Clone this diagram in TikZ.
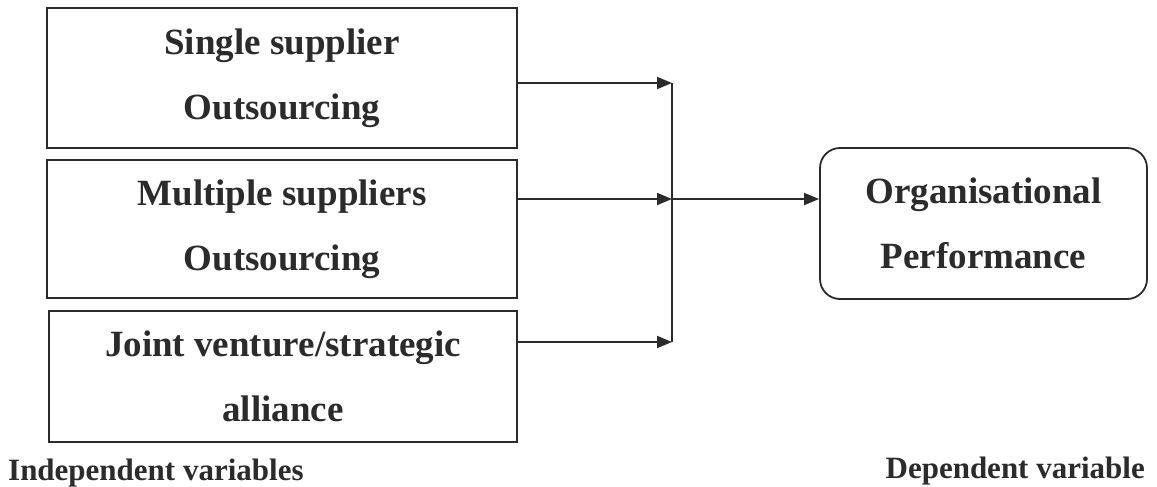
\documentclass[tikz,border=0pt]{standalone}
\usepackage{fontspec}
\setmainfont{Liberation Serif}
\usetikzlibrary{arrows.meta}
\definecolor{ink}{HTML}{2B2B2B}
\tikzset{
  box/.style={draw=ink, line width=1.8pt, minimum width=470pt, inner sep=0pt, align=center,
    text=ink, font=\fontsize{37}{65}\selectfont\bfseries},
  rbox/.style={box, rounded corners=20pt},
  arr/.style={draw=ink, line width=1.8pt, -{Triangle[length=15pt,width=12pt]}},
  lnk/.style={draw=ink, line width=1.8pt},
  lbl/.style={text=ink, inner sep=0pt, font=\fontsize{31}{36}\selectfont\bfseries}
}
\begin{document}
\begin{tikzpicture}[x=1pt,y=-1pt]
\useasboundingbox[fill=white] (0,0) rectangle (1157,487);
\node[box, minimum height=140pt] (b1) at (282,78) {Single supplier\\Outsourcing};
\node[box, minimum height=138pt] (b2) at (282,229) {Multiple suppliers\\Outsourcing};
\node[box, minimum width=468pt, minimum height=131pt] (b3) at (283,376.5) {Joint venture/strategic\\alliance};
\node[rbox, minimum width=327pt, minimum height=151pt] (r) at (983.5,223.5) {Organisational\\Performance};
\coordinate (j1) at (672,83);
\coordinate (j2) at (672,199);
\coordinate (j3) at (672,342);
\draw[arr] (b1.east |- j1) -- (j1);
\draw[arr] (b2.east |- j2) -- (j2);
\draw[arr] (b3.east |- j3) -- (j3);
\draw[lnk] (j1) -- (j3);
\draw[arr] (j2) -- (r.west |- j2);
\node[lbl, anchor=base west] (li) at (8,480) {Independent variables};
\node[lbl, anchor=base east] (ld) at (1145,478) {Dependent variable};
\end{tikzpicture}
\end{document}
